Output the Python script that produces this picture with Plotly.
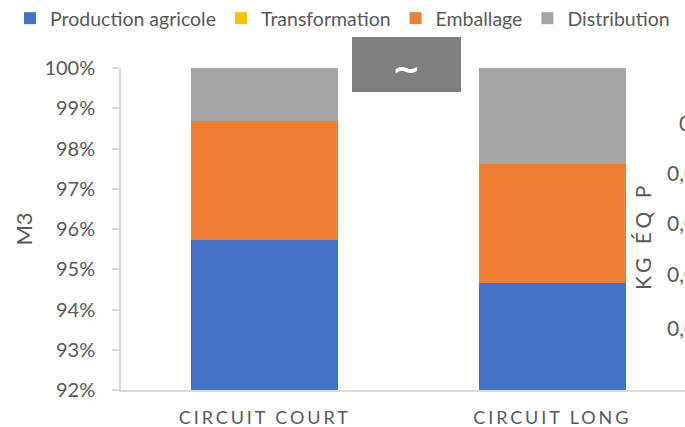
import plotly.graph_objects as go

categories = ["CIRCUIT COURT", "CIRCUIT LONG"]
series_names = ["Production agricole", "Transformation", "Emballage", "Distribution"]
production = [0.9573, 0.9467]
transformation = [0.0, 0.0]
emballage = [0.0296, 0.0294]
distribution = [0.0131, 0.0239]
colors = ["#4472C4", "#FFC000", "#ED7D31", "#A5A5A5"]
y_ticks = [0.92, 0.93, 0.94, 0.95, 0.96, 0.97, 0.98, 0.99, 1.00]
right_labels = ["0", "0,0", "0,0", "0,0", "0,0"]

FONT = "Lato"
TXT = "#595959"
W, H = 685, 427
L, T, B = 121, 68, 37
PW, PH = W - L, H - T - B

def px(x):
    return (x - L) / PW

def py(y):
    return (H - B - y) / PH

fig = go.Figure()
for name, vals, col in zip(series_names, [production, transformation, emballage, distribution], colors):
    fig.add_trace(go.Bar(x=categories, y=vals, name=name, marker=dict(color=col, line=dict(width=0)),
                         width=0.512))

fig.update_layout(
    barmode="stack",
    width=W, height=H,
    margin=dict(l=L, r=0, t=T, b=B, pad=0, autoexpand=False),
    plot_bgcolor="white", paper_bgcolor="white",
    font=dict(family=FONT, color=TXT, size=18),
    showlegend=True,
    legend=dict(orientation="h", xref="paper", yref="paper", x=px(10), y=py(-1),
                xanchor="left", yanchor="top", font=dict(size=19.5, color=TXT),
                itemwidth=30, traceorder="normal", bgcolor="rgba(0,0,0,0)"),
    xaxis=dict(range=[-0.5, -0.5 + PW / 287.5], showline=True, linecolor="#D9D9D9", linewidth=1.5,
               ticks="", tickfont=dict(size=18, color=TXT), ticklabelstandoff=11, fixedrange=True),
    yaxis=dict(range=[0.92, 1.0], tickvals=y_ticks, tickformat=".0%", showgrid=False, showline=True,
               linecolor="#D9D9D9", linewidth=1.5, ticks="outside", ticklen=7, tickcolor="#D9D9D9",
               tickwidth=1.5, tickfont=dict(size=20, color=TXT), ticklabelstandoff=13, zeroline=False,
               title=dict(text="M3", font=dict(size=22, color=TXT), standoff=6), automargin=False),
    bargap=0.488,
)

fig.add_shape(type="rect", xref="paper", yref="paper", x0=px(352), x1=px(461), y0=py(92), y1=py(37),
              fillcolor="#7F7F7F", line=dict(width=0), layer="above")
fig.add_annotation(text="<b>~</b>", xref="paper", yref="paper", x=px(406), y=py(69), showarrow=False,
                   font=dict(size=34, color="white", family="DejaVu Sans"), xanchor="center", yanchor="middle")

fig.add_annotation(text="KG ÉQ P", xref="paper", yref="paper", x=px(642), y=py(236), textangle=-90,
                   showarrow=False, font=dict(size=21, color=TXT), xanchor="center", yanchor="middle")
for lab, xx, yy in zip(right_labels, [677, 665, 665, 665, 665], [122, 172, 222, 273, 327]):
    fig.add_annotation(text=lab, xref="paper", yref="paper", x=px(xx), y=py(yy), showarrow=False,
                       font=dict(size=21, color=TXT), xanchor="left", yanchor="middle")

post = """
var s = document.createElement('style');
s.innerHTML = 'html, body { margin: 0; padding: 0; overflow: hidden; }'
  + ' .xtick text { letter-spacing: 2.9px; }'
  + ' g.annotation[data-index="1"] text { letter-spacing: 4px; }';
document.head.appendChild(s);
"""
fig.write_html("out.html", post_script=post, config={"displayModeBar": False})
